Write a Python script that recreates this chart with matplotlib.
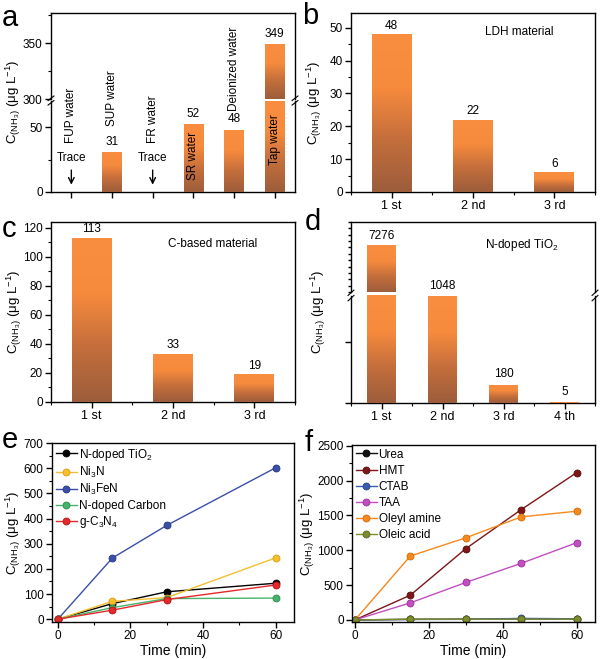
import numpy as np
import matplotlib
matplotlib.use('Agg')
import matplotlib.pyplot as plt
from matplotlib.colors import LinearSegmentedColormap
from matplotlib.ticker import MultipleLocator, NullFormatter

plt.rcParams['font.family'] = ['Liberation Sans', 'DejaVu Sans']
plt.rcParams['mathtext.fontset'] = 'custom'
plt.rcParams['mathtext.rm'] = 'Liberation Sans'
plt.rcParams['mathtext.it'] = 'Liberation Sans:italic'
plt.rcParams['axes.linewidth'] = 1.0

# ---- data ----
# a: water sources (0 = trace)
a_labels = ['FUP water', 'SUP water', 'FR water', 'SR water', 'Deionized water', 'Tap water']
a_values = [0, 31, 0, 52, 48, 349]
a_trace = [True, False, True, False, False, False]

# b, c, d: cycle runs
cyc3 = ['1 st', '2 nd', '3 rd']
cyc4 = ['1 st', '2 nd', '3 rd', '4 th']
b_values = [48, 22, 6]
c_values = [113, 33, 19]
d_values = [7276, 1048, 180, 5]

# e: catalysts vs time
e_time = [0, 15, 30, 60]
e_tio2 = [0, 62, 109, 143]
e_ni3n = [0, 71, 86, 244]
e_ni3fen = [0, 243, 373, 602]
e_ncarbon = [0, 46, 82, 84]
e_gc3n4 = [0, 36, 78, 136]

# f: precursors vs time
f_time = [0, 15, 30, 45, 60]
f_urea = [0, 8, 10, 14, 14]
f_hmt = [0, 355, 1022, 1582, 2112]
f_ctab = [0, 6, 8, 22, 16]
f_taa = [0, 245, 537, 812, 1107]
f_oleyl = [0, 917, 1178, 1478, 1560]
f_oleic = [0, 10, 10, 11, 12]

ylab = r'C$_{\mathrm{(NH_3)}}$ (μg L$^{-1}$)'
cmap = LinearSegmentedColormap.from_list('barg', ['#9C5D3B', '#C46E3C', '#F78B3D', '#F98E40'])

W, H = 600, 659
fig = plt.figure(figsize=(6, 6.59), dpi=100)


def add_ax(l, r, t, b):
    return fig.add_axes([l / W, 1 - b / H, (r - l) / W, (b - t) / H])


def fig_ylabel(x, y):
    fig.text(x / W, 1 - y / H, ylab, rotation=90, ha='center', va='center', fontsize=9.5)


def grad_bars(ax, xs, vals, w):
    y0, y1 = ax.get_ylim()
    bars = ax.bar(xs, vals, w, color='#F78B3D', zorder=2)
    img = np.linspace(0, 1, 256).reshape(-1, 1)
    for bar, v in zip(bars, vals):
        lo, hi = max(0, y0), min(v, y1)
        if hi <= lo:
            continue
        im = ax.imshow(img, extent=[bar.get_x(), bar.get_x() + w, lo, hi],
                       origin='lower', cmap=cmap, aspect='auto', zorder=3)
        im.set_clip_path(bar)
    ax.set_ylim(y0, y1)
    return bars


def style(ax):
    ax.tick_params(which='both', direction='out', labelsize=8.5, top=False, right=False, pad=2)
    ax.tick_params(which='major', length=4, width=1)
    ax.tick_params(which='minor', length=2, width=0.8)


def break_marks(axL):
    d = 0.012
    for xx in (0, 1):
        for off in (-0.025, 0.025):
            axL.plot([xx - d, xx + d], [1.0 - 0.02 + off, 1.0 + 0.03 + off],
                     transform=axL.transAxes, color='k', lw=0.8, clip_on=False)


def panel_letter(x, y, s):
    fig.text(x / W, 1 - y / H, s, fontsize=21, va='center', ha='left')


# ---------------- panel a ----------------
axaU = add_ax(51, 295, 13, 99)
axaL = add_ax(51, 295, 101, 192)
xa = np.arange(1, len(a_values) + 1)
axaU.set_ylim(300, 377)
axaL.set_ylim(0, 70)
for ax in (axaU, axaL):
    ax.set_xlim(0.5, 6.5)
    style(ax)
grad_bars(axaU, xa, a_values, 0.47)
grad_bars(axaL, xa, a_values, 0.47)
axaU.spines['bottom'].set_visible(False)
axaL.spines['top'].set_visible(False)
axaU.set_xticks([])
axaU.set_yticks([300, 350])
axaU.yaxis.set_minor_locator(MultipleLocator(25))
axaL.set_xticks(xa)
axaL.set_xticklabels([])
axaL.set_yticks([0, 50])
axaL.yaxis.set_minor_locator(MultipleLocator(25))
break_marks(axaL)

label_bottom = [38, 50.5, 38, 9.3, 62, 21]
for x, lab, v, tr, lb in zip(xa, a_labels, a_values, a_trace, label_bottom):
    axaL.text(x, lb, lab, rotation=90, ha='center', va='bottom', fontsize=8.5, zorder=5, clip_on=False)
    if tr:
        axaL.annotate('', xy=(x, 3.5), xytext=(x, 19),
                      arrowprops=dict(arrowstyle='->', lw=1, color='k'))
        axaL.text(x, 26.5, 'Trace', ha='center', va='center', fontsize=8.5)
    elif v > 300:
        axaU.annotate(str(v), (x, v), xytext=(0, 3), textcoords='offset points',
                      ha='center', va='bottom', fontsize=8.5)
    else:
        axaL.annotate(str(v), (x, v), xytext=(0, 3), textcoords='offset points',
                      ha='center', va='bottom', fontsize=8.5)
fig_ylabel(13, 102)
panel_letter(2, 18, 'a')


# ---------------- panel b / c ----------------
def simple_bars(l, r, t, b, vals, labels, ylim, major, minor, title, tx, ty):
    ax = add_ax(l, r, t, b)
    x = np.arange(1, len(vals) + 1)
    ax.set_xlim(0.5, len(vals) + 0.5)
    ax.set_ylim(*ylim)
    style(ax)
    grad_bars(ax, x, vals, 0.49)
    ax.set_xticks(x)
    ax.set_xticklabels(labels, fontsize=9)
    ax.xaxis.set_minor_locator(MultipleLocator(0.5))
    ax.yaxis.set_major_locator(MultipleLocator(major))
    ax.yaxis.set_minor_locator(MultipleLocator(minor))
    for xi, v in zip(x, vals):
        ax.annotate(str(v), (xi, v), xytext=(0, 2), textcoords='offset points',
                    ha='center', va='bottom', fontsize=8.5)
    ax.text(tx, ty, title, transform=ax.transAxes, fontsize=8.5, ha='left', va='center')
    fig_ylabel(l - 37, (t + b) / 2)
    return ax


simple_bars(351, 595, 13, 192, b_values, cyc3, (0, 54.5), 10, 5, 'LDH material', 0.55, 0.895)
panel_letter(302, 16, 'b')
simple_bars(51, 295, 222, 402, c_values, cyc3, (0, 124), 20, 10, 'C-based material', 0.48, 0.88)
panel_letter(2, 229, 'c')

# ---------------- panel d ----------------
axdU = add_ax(351, 595, 222, 292)
axdL = add_ax(351, 595, 296, 403)
xd = np.arange(1, len(d_values) + 1)
axdU.set_ylim(5800, 8000)
axdL.set_ylim(0, 1050)
for ax in (axdU, axdL):
    ax.set_xlim(0.5, 4.5)
    style(ax)
grad_bars(axdU, xd, d_values, 0.47)
grad_bars(axdL, xd, d_values, 0.47)
axdU.spines['bottom'].set_visible(False)
axdL.spines['top'].set_visible(False)
axdU.set_xticks([])
axdU.yaxis.set_major_locator(MultipleLocator(200))
axdU.yaxis.set_major_formatter(NullFormatter())
axdU.tick_params(which='major', length=2.5)
axdL.set_yticks([0, 600])
axdL.set_yticklabels([])
axdL.set_xticks(xd)
axdL.set_xticklabels(cyc4, fontsize=9)
axdL.xaxis.set_minor_locator(MultipleLocator(0.5))
break_marks(axdL)
axdU.annotate(str(d_values[0]), (xd[0], d_values[0]), xytext=(0, 2), textcoords='offset points',
              ha='center', va='bottom', fontsize=8.5)
for xi, v in zip(xd[1:], d_values[1:]):
    axdL.annotate(str(v), (xi, v), xytext=(0, 3), textcoords='offset points',
                  ha='center', va='bottom', fontsize=8.5)
axdU.text(0.55, 0.67, 'N-doped TiO$_2$', transform=axdU.transAxes, fontsize=8.5, ha='left', va='center')
fig_ylabel(318, 312)
panel_letter(305, 222, 'd')


# ---------------- panels e / f ----------------
def line_panel(l, r, t, b, xs, xlim, ylim, ymaj, ymin, series, spacing, labx):
    ax = add_ax(l, r, t, b)
    for ys, c, ec, lab in series:
        ax.plot(xs, ys, '-o', color=c, lw=1,
                ms=5, mfc=c, mec=ec, mew=0.6, label=lab)
    ax.set_xlim(*xlim)
    ax.set_ylim(*ylim)
    style(ax)
    ax.xaxis.set_major_locator(MultipleLocator(20))
    ax.xaxis.set_minor_locator(MultipleLocator(10))
    ax.yaxis.set_major_locator(MultipleLocator(ymaj))
    ax.yaxis.set_minor_locator(MultipleLocator(ymin))
    ax.set_xlabel('Time (min)', fontsize=10, labelpad=1)
    fig_ylabel(labx, (t + b) / 2)
    ax.legend(loc='upper left', frameon=False, fontsize=8.5, handlelength=1.8,
              handletextpad=0.15, labelspacing=spacing, borderaxespad=0.1,
              borderpad=0.2)
    return ax


line_panel(52, 294, 443, 622, e_time, (-1.6, 65), (-11, 700), 100, 50, [
    (e_tio2, '#000000', '#000000', 'N-doped TiO$_2$'),
    (e_ni3n, '#F5BF2E', '#D99E10', 'Ni$_3$N'),
    (e_ni3fen, '#3A4FA8', '#24357E', 'Ni$_3$FeN'),
    (e_ncarbon, '#45B36B', '#2E8A4E', 'N-doped Carbon'),
    (e_gc3n4, '#E5282A', '#B51517', 'g-C$_3$N$_4$'),
], 0.2, 13)
panel_letter(2, 440, 'e')

line_panel(352, 595, 445, 622, f_time, (-0.8, 65), (-30, 2510), 500, 250, [
    (f_urea, '#111111', '#000000', 'Urea'),
    (f_hmt, '#7E1517', '#5A0C0E', 'HMT'),
    (f_ctab, '#3A5CB0', '#243F85', 'CTAB'),
    (f_taa, '#C24FC2', '#962F96', 'TAA'),
    (f_oleyl, '#F5891E', '#D06A08', 'Oleyl amine'),
    (f_oleic, '#7D8B2A', '#5A661A', 'Oleic acid'),
], 0.35, 307)
panel_letter(305, 443, 'f')

fig.savefig('out.png', dpi=100)
